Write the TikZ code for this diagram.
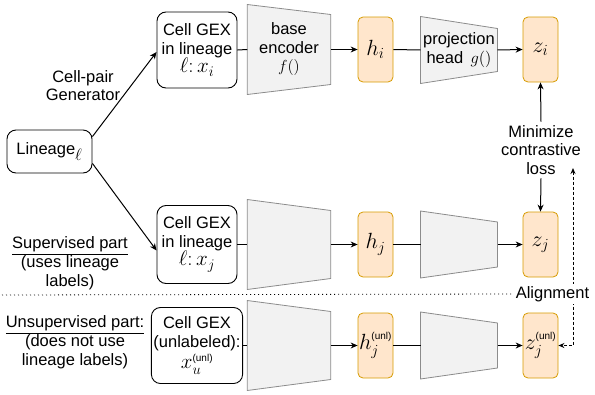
\RequirePackage{fix-cm}
\documentclass[tikz,border=0pt]{standalone}
\usepackage[no-math]{fontspec}
\setmainfont{Liberation Sans}
\usepackage{amsmath}
\usetikzlibrary{arrows.meta, backgrounds}

\definecolor{latfill}{HTML}{FFE6CC}
\definecolor{latdraw}{HTML}{D79B00}
\definecolor{netfill}{HTML}{F2F2F2}
\definecolor{netdraw}{HTML}{8C8C8C}

\newcommand{\unl}{\text{\fontsize{10}{10}\selectfont(unl)}}
\newcommand{\mathline}[1]{{\fontsize{21}{21}\selectfont#1}}
\newcommand{\trapez}[2]{%
  \fill[netfill, draw=netdraw, line width=0.8pt] (#1.north west) -- ([yshift=-#2]#1.north east)
    -- ([yshift=#2]#1.south east) -- (#1.south west) -- cycle;}

\tikzset{
  inbox/.style={draw, rounded corners=9pt, line width=0.9pt, align=center, inner sep=2pt},
  latent/.style={draw=latdraw, fill=latfill, rounded corners=5pt, line width=0.8pt,
    minimum width=35pt, minimum height=65pt, inner sep=0pt,
    font=\fontsize{22}{24}\selectfont},
  encbox/.style={minimum width=82.5pt, minimum height=89pt, inner sep=0pt, align=center},
  projbox/.style={minimum width=76pt, minimum height=66pt, inner sep=0pt, align=center},
  arr/.style={-{Stealth[length=7pt,width=6pt]}},
  alignarr/.style={{Stealth[length=6pt,width=5pt]}-{Stealth[length=6pt,width=5pt]},
    dash pattern=on 3pt off 2pt}
}

\begin{document}
\begin{tikzpicture}[x=1pt, y=-1pt, line width=1pt, font=\fontsize{16.5}{18.5}\selectfont]
  \useasboundingbox (0,0) rectangle (595,394);

  % Inputs
  \node[inbox, minimum width=85pt, minimum height=43pt] (lineage) at (49.5,151.5) {Lineage$_{\textstyle\ell}$};
  \node[inbox, minimum width=80pt, minimum height=76pt] (gexi) at (197,50) {Cell GEX\\in lineage\\\mathline{$\ell{:}\,x_i$}};
  \node[inbox, minimum width=80pt, minimum height=78pt] (gexj) at (197,244.5) {Cell GEX\\in lineage\\\mathline{$\ell{:}\,x_j$}};
  \node[inbox, minimum width=86pt, minimum height=76pt] (gexu) at (197,345.5) {Cell GEX\\(unlabeled):\\[3pt]\mathline{$x_u^{\unl}$}};

  % Encoders and projection heads
  \node[encbox] (enci) at (289,49.5) {base\\encoder\\{\fontsize{16}{16}\selectfont$f()$}};
  \node[encbox] (encj) at (289,244.5) {};
  \node[encbox] (encu) at (289,345.5) {};
  \node[projbox] (proji) at (459,50) {projection\\head\, $g()$};
  \node[projbox] (projj) at (459,244.5) {};
  \node[projbox] (proju) at (459,345.5) {};
  \begin{scope}[on background layer]
    \trapez{enci}{10pt} \trapez{encj}{11pt} \trapez{encu}{11pt}
    \trapez{proji}{12pt} \trapez{projj}{11pt} \trapez{proju}{11pt}
  \end{scope}

  % Representations
  \node[latent] (hi) at (375.5,49.5) {$h_i$};
  \node[latent] (hj) at (375.5,244.5) {$h_j$};
  \node[latent] (hu) at (375.5,345.5) {$h_j^{\unl}$};
  \node[latent] (zi) at (540.5,49.5) {$z_i$};
  \node[latent] (zj) at (540.5,244.5) {$z_j$};
  \node[latent] (zu) at (540.5,345.5) {$z_j^{\unl}$};

  % Labels
  \node[align=center] (gen) at (83,85.5) {Cell-pair\\Generator};
  \node[align=center] (sup) at (70,263) {\underline{Supervised part}\\(uses lineage\\labels)};
  \node[align=center] (unsup) at (75,342) {\underline{Unsupervised part:}\\(does not use\\lineage labels)};
  \node[align=center] (loss) at (541,150) {Minimize\\contrastive\\loss};

  % Connectors
  \draw[arr] ([yshift=-7pt]lineage.north east) -- ([yshift=-2pt]gexi.west);
  \draw[arr] ([yshift=10pt]lineage.south east) -- ([yshift=-6pt]gexj.west);
  \foreach \r in {i,j,u} {
    \draw (gex\r.east) -- (enc\r.west);
    \draw[arr] (enc\r.east) -- (h\r.west);
    \draw (h\r.east) -- (proj\r.west);
    \draw[arr] (proj\r.east) -- (z\r.west);
  }
  \draw[arr] (loss.north) -- (zi.south);
  \draw[arr] (loss.south) -- (zj.north);

  % Alignment
  \coordinate (dashtop) at (573,168);
  \coordinate (dashturn) at (573,345.5);
  \draw[alignarr] (dashtop) -- (dashturn) -- (zu.east);
  \node[fill=white, inner sep=2pt] (align) at (552.5,294) {Alignment};
  \coordinate (sepl) at (2,295);
  \draw[line width=0.8pt, dash pattern=on 1pt off 3pt] (sepl) -- (align.west);
\end{tikzpicture}
\end{document}
